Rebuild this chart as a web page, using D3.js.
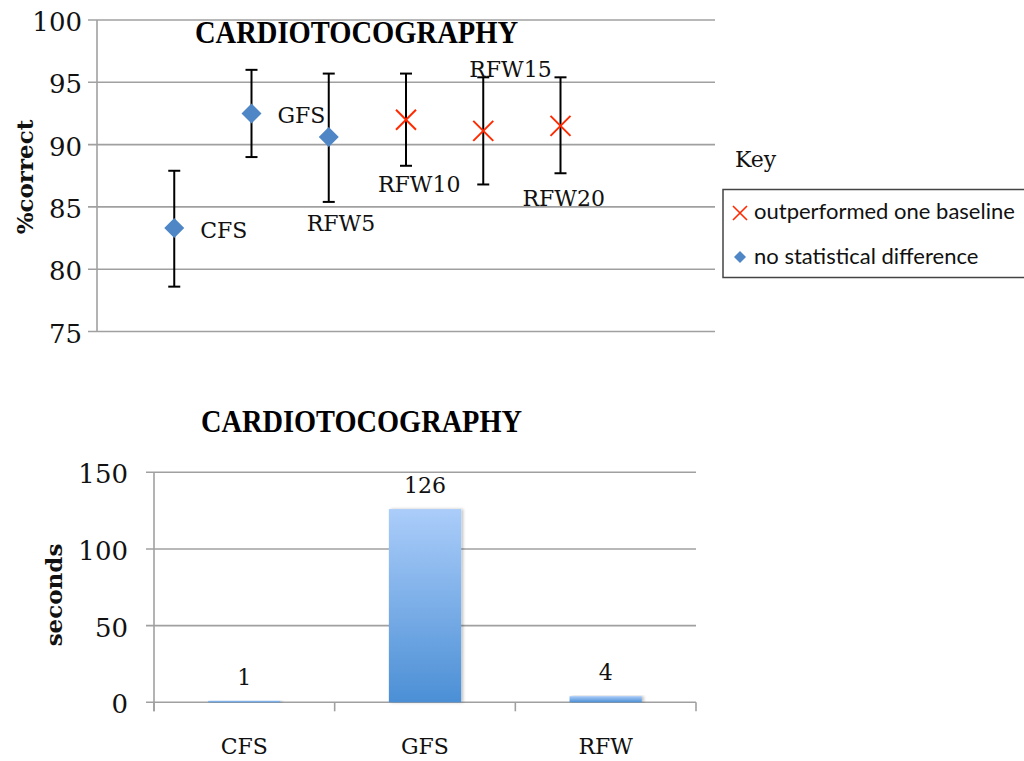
<!DOCTYPE html>
<html>
<head>
<meta charset="utf-8">
<script src="https://cdn.jsdelivr.net/npm/d3@7"></script>
<style>
  html, body { margin: 0; padding: 0; background: #fff; }
  svg { display: block; }
</style>
</head>
<body>
<svg id="chart" width="1024" height="761"></svg>
<script>
// ---------- data ----------
const methods      = ["CFS", "GFS", "RFW5", "RFW10", "RFW15", "RFW20"];
const accuracy     = [83.3, 92.5, 90.6, 92.0, 91.1, 91.5];
const accuracyHigh = [87.9, 96.0, 95.7, 95.7, 95.4, 95.4];
const accuracyLow  = [78.6, 89.0, 85.4, 88.3, 86.8, 87.7];
const outcome      = ["none", "none", "none", "outperformed", "outperformed", "outperformed"];
const accuracyTicks = [75, 80, 85, 90, 95, 100];

const timeCategories = ["CFS", "GFS", "RFW"];
const timeSeconds    = [1, 126, 4];
const timeTicks      = [0, 50, 100, 150];

const legendLabels = ["outperformed one baseline", "no statistical difference"];
const chartTitle = "CARDIOTOCOGRAPHY";

// ---------- layout / style ----------
const labelOffsets = [[26, 10], [26, 10], [-22, 94], [-28, 72], [-14, -54], [-38, 80]];
const gridColor = "#a0a0a0";
const blue = "#4f86c6";
const red = "#ff2a00";
const serif = "'DejaVu Serif', serif";

const svg = d3.select("#chart");

// ===== top chart: accuracy =====
const x1 = d3.scaleLinear().domain([0, 8]).range([97, 715]);
const y1 = d3.scaleLinear().domain([75, 100]).range([331.5, 20]);

const topG = svg.append("g");
topG.selectAll("line.grid").data(accuracyTicks).enter().append("line")
  .attr("x1", 88).attr("x2", 715)
  .attr("y1", d => y1(d)).attr("y2", d => y1(d))
  .attr("stroke", gridColor).attr("stroke-width", 1.6);
topG.append("line").attr("x1", x1(0)).attr("x2", x1(0))
  .attr("y1", y1(100)).attr("y2", y1(75))
  .attr("stroke", gridColor).attr("stroke-width", 1.6);
topG.selectAll("text.tick").data(accuracyTicks).enter().append("text")
  .attr("x", 82).attr("y", d => y1(d) + 11)
  .attr("text-anchor", "end")
  .style("font-family", serif).style("font-size", "26px").attr("fill", "#111")
  .text(d => d);

topG.append("text")
  .attr("x", 356.5).attr("y", 43)
  .attr("text-anchor", "middle")
  .attr("textLength", 323).attr("lengthAdjust", "spacingAndGlyphs")
  .style("font-family", "'Liberation Serif', serif").style("font-weight", "bold").style("font-size", "31px")
  .attr("fill", "#000").text(chartTitle);

topG.append("text")
  .attr("transform", "translate(33,177) rotate(-90)")
  .attr("text-anchor", "middle")
  .style("font-family", serif).style("font-weight", "bold").style("font-size", "23px")
  .attr("fill", "#111").text("%correct");

// error bars
const pts = methods.map((m, i) => ({ m, i, v: accuracy[i], hi: accuracyHigh[i], lo: accuracyLow[i], o: outcome[i] }));
const eb = topG.selectAll("g.eb").data(pts).enter().append("g")
  .attr("stroke", "#000").attr("stroke-width", 2);
eb.append("line").attr("x1", d => x1(d.i + 1)).attr("x2", d => x1(d.i + 1))
  .attr("y1", d => y1(d.hi)).attr("y2", d => y1(d.lo));
eb.append("line").attr("x1", d => x1(d.i + 1) - 6).attr("x2", d => x1(d.i + 1) + 6)
  .attr("y1", d => y1(d.hi)).attr("y2", d => y1(d.hi));
eb.append("line").attr("x1", d => x1(d.i + 1) - 6).attr("x2", d => x1(d.i + 1) + 6)
  .attr("y1", d => y1(d.lo)).attr("y2", d => y1(d.lo));

// markers
const diamond = d3.symbol(d3.symbolSquare, 200);
topG.selectAll("path.dia").data(pts.filter(d => d.o === "none")).enter().append("path")
  .attr("d", diamond)
  .attr("transform", d => `translate(${x1(d.i + 1)},${y1(d.v)}) rotate(45)`)
  .attr("fill", blue);
const cross = (s) => `M${-s},${-s}L${s},${s}M${-s},${s}L${s},${-s}`;
topG.selectAll("path.x").data(pts.filter(d => d.o === "outperformed")).enter().append("path")
  .attr("d", cross(10))
  .attr("transform", d => `translate(${x1(d.i + 1)},${y1(d.v)})`)
  .attr("stroke", red).attr("stroke-width", 2).attr("fill", "none");

// point labels
topG.selectAll("text.pl").data(pts).enter().append("text")
  .attr("x", d => x1(d.i + 1) + labelOffsets[d.i][0])
  .attr("y", d => y1(d.v) + labelOffsets[d.i][1])
  .style("font-family", serif).style("font-size", "22px").attr("fill", "#111")
  .text(d => d.m);

// legend
topG.append("text").attr("x", 735).attr("y", 167)
  .style("font-family", serif).style("font-size", "22px").attr("fill", "#111").text("Key");
topG.append("rect").attr("x", 723).attr("y", 189.5).attr("width", 320).attr("height", 88)
  .attr("fill", "#fff").attr("stroke", "#444").attr("stroke-width", 1.5);
topG.append("path").attr("d", cross(7)).attr("transform", "translate(740,213)")
  .attr("stroke", red).attr("stroke-width", 1.6).attr("fill", "none");
topG.append("path").attr("d", d3.symbol(d3.symbolSquare, 72))
  .attr("transform", "translate(740,257) rotate(45)").attr("fill", blue);
topG.selectAll("text.leg").data(legendLabels).enter().append("text")
  .attr("x", 754).attr("y", (d, i) => 219 + i * 45)
  .style("font-family", "Lato, 'Open Sans', sans-serif").style("font-size", "22px").attr("fill", "#111")
  .text(d => d);

// ===== bottom chart: time =====
const x2 = d3.scaleBand().domain(timeCategories).range([154, 696]);
const y2 = d3.scaleLinear().domain([0, 150]).range([702.3, 472.3]);
const barW = x2.bandwidth() * 0.4;

const botG = svg.append("g");
const defs = svg.append("defs");
const grad = defs.append("linearGradient").attr("id", "barGrad")
  .attr("x1", 0).attr("x2", 0).attr("y1", 0).attr("y2", 1);
grad.append("stop").attr("offset", "0%").attr("stop-color", "#abcdfa");
grad.append("stop").attr("offset", "100%").attr("stop-color", "#4b8fd5");
const shadow = defs.append("filter").attr("id", "sh").attr("x", "-10%").attr("width", "130%");
shadow.append("feDropShadow").attr("dx", 2).attr("dy", 0).attr("stdDeviation", 1.5)
  .attr("flood-color", "#000").attr("flood-opacity", 0.25);

botG.selectAll("line.grid").data(timeTicks).enter().append("line")
  .attr("x1", 146).attr("x2", 696)
  .attr("y1", d => y2(d)).attr("y2", d => y2(d))
  .attr("stroke", gridColor).attr("stroke-width", 1.6);
botG.append("line").attr("x1", 154).attr("x2", 154)
  .attr("y1", y2(150)).attr("y2", y2(0) + 9)
  .attr("stroke", gridColor).attr("stroke-width", 1.6);
const catEdges = [154].concat(timeCategories.map(c => x2(c) + x2.bandwidth()));
botG.selectAll("line.ct").data(catEdges).enter().append("line")
  .attr("x1", d => d).attr("x2", d => d)
  .attr("y1", y2(0)).attr("y2", y2(0) + 9)
  .attr("stroke", gridColor).attr("stroke-width", 1.6);

botG.selectAll("text.tick").data(timeTicks).enter().append("text")
  .attr("x", 128).attr("y", d => y2(d) + 11)
  .attr("text-anchor", "end")
  .style("font-family", serif).style("font-size", "26px").attr("fill", "#111")
  .text(d => d);

botG.selectAll("rect.bar").data(timeCategories).enter().append("rect")
  .attr("x", d => x2(d) + (x2.bandwidth() - barW) / 2)
  .attr("width", barW)
  .attr("y", (d, i) => y2(timeSeconds[i]))
  .attr("height", (d, i) => y2(0) - y2(timeSeconds[i]))
  .attr("fill", "url(#barGrad)")
  .attr("filter", "url(#sh)");

botG.selectAll("text.val").data(timeCategories).enter().append("text")
  .attr("x", d => x2(d) + x2.bandwidth() / 2)
  .attr("y", (d, i) => y2(timeSeconds[i]) - 16)
  .attr("text-anchor", "middle")
  .style("font-family", serif).style("font-size", "22px").attr("fill", "#111")
  .text((d, i) => timeSeconds[i]);

botG.selectAll("text.cat").data(timeCategories).enter().append("text")
  .attr("x", d => x2(d) + x2.bandwidth() / 2)
  .attr("y", 754)
  .attr("text-anchor", "middle")
  .style("font-family", serif).style("font-size", "22px").attr("fill", "#111")
  .text(d => d);

botG.append("text")
  .attr("x", 361.5).attr("y", 432)
  .attr("text-anchor", "middle")
  .attr("textLength", 321).attr("lengthAdjust", "spacingAndGlyphs")
  .style("font-family", "'Liberation Serif', serif").style("font-weight", "bold").style("font-size", "31px")
  .attr("fill", "#000").text(chartTitle);

botG.append("text")
  .attr("transform", "translate(62,595) rotate(-90)")
  .attr("text-anchor", "middle")
  .style("font-family", serif).style("font-weight", "bold").style("font-size", "23px")
  .attr("fill", "#111").text("seconds");
</script>
</body>
</html>
